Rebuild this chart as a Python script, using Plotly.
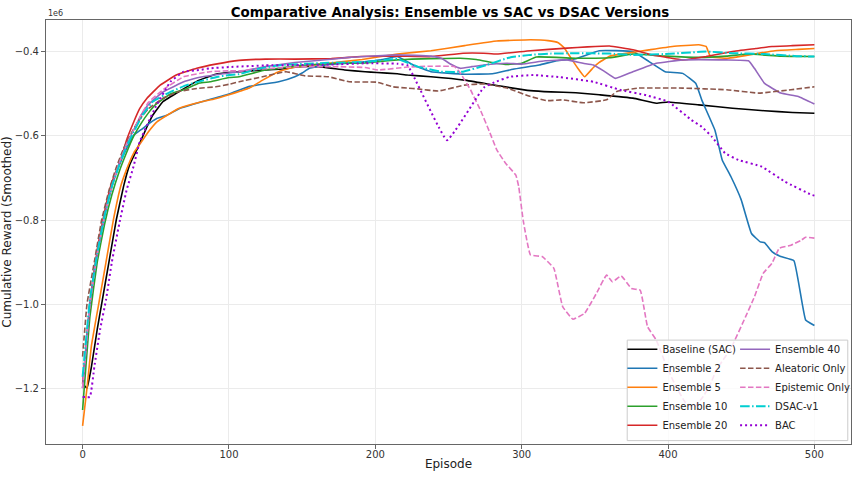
import plotly.graph_objects as go

# values are in units of 1e6 (cumulative reward, smoothed)
baseline_ep = [0,3,6,10,13,18,23,28,32,37,44,48,55,66,78,91,100,115,134,148,161,179,193,201,215,222,238,261,283,306,320,337,353,376,392,400,421,444,466,485,500]
baseline_val = [-1.19,-1.20,-1.15,-1.06,-1.0,-0.9,-0.8,-0.72,-0.67,-0.633,-0.578,-0.55,-0.518,-0.494,-0.47,-0.453,-0.449,-0.445,-0.441,-0.435,-0.435,-0.443,-0.447,-0.449,-0.452,-0.455,-0.459,-0.467,-0.48,-0.492,-0.495,-0.497,-0.502,-0.51,-0.522,-0.519,-0.526,-0.534,-0.54,-0.544,-0.546]

ens2_ep = [0,5,10,15,20,25,30,35,40,44,51,58,66,82,100,114,134,145,150,155,166,191,205,215,227,238,261,280,294,312,324,337,353,376,387,398,410,419,423,432,437,443,450,457,463,466,471,477,486,494,500]
ens2_val = [-1.2,-1.0,-0.88,-0.79,-0.72,-0.67,-0.63,-0.598,-0.585,-0.574,-0.558,-0.55,-0.535,-0.518,-0.50,-0.482,-0.471,-0.459,-0.45,-0.439,-0.431,-0.424,-0.418,-0.411,-0.433,-0.447,-0.453,-0.452,-0.441,-0.431,-0.421,-0.416,-0.397,-0.399,-0.423,-0.447,-0.451,-0.475,-0.514,-0.586,-0.657,-0.697,-0.752,-0.832,-0.852,-0.854,-0.875,-0.887,-0.897,-1.038,-1.051]

ens5_ep = [0,3,6,11,16,21,26,30,35,39,45,51,58,66,82,90,100,107,114,123,134,145,168,191,215,238,261,283,306,318,325,329,333,338,343,349,353,360,370,387,403,421,426,429,441,473,489,500]
ens5_val = [-1.29,-1.2,-1.1,-1.0,-0.9,-0.8,-0.72,-0.68,-0.64,-0.62,-0.59,-0.566,-0.55,-0.534,-0.518,-0.512,-0.502,-0.494,-0.486,-0.467,-0.447,-0.436,-0.427,-0.418,-0.405,-0.397,-0.385,-0.374,-0.371,-0.373,-0.378,-0.39,-0.411,-0.437,-0.459,-0.437,-0.425,-0.41,-0.404,-0.395,-0.387,-0.383,-0.387,-0.411,-0.415,-0.397,-0.394,-0.392]

ens10_ep = [0,5,10,15,20,25,30,35,40,45,50,60,69,80,87,100,107,125,150,175,193,202,215,225,238,258,269,280,290,300,310,337,360,376,398,421,440,455,477,500]
ens10_val = [-1.252,-1.03,-0.9,-0.81,-0.74,-0.685,-0.64,-0.6,-0.57,-0.545,-0.525,-0.5,-0.49,-0.474,-0.471,-0.461,-0.459,-0.443,-0.432,-0.427,-0.426,-0.423,-0.419,-0.417,-0.416,-0.415,-0.418,-0.425,-0.43,-0.427,-0.412,-0.415,-0.414,-0.405,-0.41,-0.413,-0.41,-0.405,-0.41,-0.411]

ens20_ep = [0,5,10,15,20,26,30,35,39,44,53,64,78,91,107,125,145,170,190,215,238,260,274,283,306,331,345,360,376,390,399,410,426,444,460,471,485,500]
ens20_val = [-1.19,-1.0,-0.87,-0.78,-0.71,-0.657,-0.61,-0.566,-0.535,-0.51,-0.479,-0.455,-0.439,-0.429,-0.42,-0.417,-0.417,-0.416,-0.411,-0.41,-0.411,-0.403,-0.403,-0.405,-0.397,-0.391,-0.388,-0.386,-0.395,-0.408,-0.413,-0.419,-0.411,-0.399,-0.392,-0.387,-0.385,-0.383]

ens40_ep = [0,5,10,15,20,25,30,35,40,45,55,70,82,100,107,125,145,168,182,215,238,245,252,258,266,274,290,300,316,331,342,349,356,364,376,392,410,440,455,459,466,477,489,500]
ens40_val = [-1.2,-1.0,-0.88,-0.79,-0.72,-0.665,-0.62,-0.585,-0.55,-0.525,-0.495,-0.47,-0.459,-0.45,-0.447,-0.435,-0.425,-0.418,-0.413,-0.407,-0.41,-0.415,-0.43,-0.439,-0.435,-0.431,-0.427,-0.429,-0.421,-0.419,-0.427,-0.431,-0.445,-0.463,-0.447,-0.427,-0.419,-0.419,-0.421,-0.439,-0.475,-0.498,-0.506,-0.524]

aleatoric_ep = [0,3,8,13,18,23,28,33,38,45,55,66,78,91,100,107,123,139,152,168,182,201,212,222,229,243,261,274,290,306,317,328,342,358,365,380,410,440,462,484,500]
aleatoric_val = [-1.125,-1.0,-0.9,-0.8,-0.73,-0.675,-0.63,-0.595,-0.565,-0.535,-0.51,-0.494,-0.487,-0.483,-0.477,-0.471,-0.459,-0.447,-0.457,-0.459,-0.471,-0.472,-0.483,-0.486,-0.488,-0.493,-0.479,-0.476,-0.486,-0.506,-0.516,-0.514,-0.521,-0.514,-0.494,-0.486,-0.486,-0.49,-0.498,-0.49,-0.483]

epistemic_ep = [0,5,10,15,20,25,30,35,40,45,55,69,87,100,107,125,148,170,193,202,222,238,254,258,265,272,278,283,289,296,298,301,306,314,322,328,335,343,351,358,362,368,375,381,386,392,400,406,412,418,424,429,433,443,453,459,465,471,476,484,491,494,500]
epistemic_val = [-1.2,-1.0,-0.88,-0.79,-0.72,-0.665,-0.62,-0.585,-0.55,-0.52,-0.49,-0.459,-0.447,-0.445,-0.445,-0.44,-0.435,-0.435,-0.437,-0.443,-0.436,-0.434,-0.435,-0.45,-0.49,-0.54,-0.59,-0.633,-0.665,-0.693,-0.721,-0.80,-0.883,-0.887,-0.915,-1.006,-1.036,-1.022,-0.975,-0.931,-0.947,-0.933,-0.963,-0.967,-1.054,-1.086,-1.157,-1.2,-1.235,-1.245,-1.22,-1.19,-1.157,-1.105,-1.03,-0.983,-0.927,-0.903,-0.867,-0.86,-0.848,-0.841,-0.843]

dsac_ep = [0,5,10,15,20,25,30,35,41,48,60,71,80,91,100,107,120,136,168,193,215,229,245,260,276,292,306,320,337,360,376,398,426,444,466,488,500]
dsac_val = [-1.173,-0.99,-0.88,-0.79,-0.72,-0.67,-0.625,-0.59,-0.55,-0.518,-0.495,-0.479,-0.47,-0.46,-0.455,-0.453,-0.44,-0.431,-0.426,-0.424,-0.417,-0.435,-0.447,-0.447,-0.431,-0.413,-0.407,-0.404,-0.403,-0.404,-0.407,-0.405,-0.399,-0.403,-0.405,-0.41,-0.411]

bac_ep = [0,5,8,12,16,20,25,30,35,39,44,50,60,69,80,87,100,125,148,170,193,215,222,249,274,283,292,308,326,349,367,385,400,416,423,430,439,448,464,480,498,500]
bac_val = [-1.221,-1.221,-1.15,-1.06,-0.99,-0.9,-0.81,-0.73,-0.67,-0.614,-0.574,-0.53,-0.471,-0.447,-0.443,-0.439,-0.436,-0.432,-0.431,-0.43,-0.427,-0.428,-0.432,-0.61,-0.485,-0.47,-0.459,-0.455,-0.46,-0.471,-0.49,-0.503,-0.518,-0.562,-0.578,-0.602,-0.641,-0.657,-0.673,-0.709,-0.740,-0.742]

SCALE = 1e6
y_ticks = [-1.2, -1.0, -0.8, -0.6, -0.4]
x_ticks = [0, 100, 200, 300, 400, 500]

series = [
    ("Baseline (SAC)", baseline_ep, baseline_val, "#000000", "solid", 1.6, "legend", 1),
    ("Ensemble 2", ens2_ep, ens2_val, "#1f77b4", "solid", 1.6, "legend", 2),
    ("Ensemble 5", ens5_ep, ens5_val, "#ff7f0e", "solid", 1.6, "legend", 3),
    ("Ensemble 10", ens10_ep, ens10_val, "#2ca02c", "solid", 1.6, "legend", 4),
    ("Ensemble 20", ens20_ep, ens20_val, "#d62728", "solid", 1.6, "legend", 5),
    ("Ensemble 40", ens40_ep, ens40_val, "#9467bd", "solid", 1.6, "legend2", 1),
    ("Aleatoric Only", aleatoric_ep, aleatoric_val, "#8c564b", "5.5px,2.4px", 1.6, "legend2", 2),
    ("Epistemic Only", epistemic_ep, epistemic_val, "#e377c2", "5.5px,2.4px", 1.6, "legend2", 3),
    ("DSAC-v1", dsac_ep, dsac_val, "#00ced1", "9.6px,2.4px,1.5px,2.4px", 2.0, "legend2", 4),
    ("BAC", bac_ep, bac_val, "#9400d3", "2px,3px", 2.0, "legend2", 5),
]

FONT = "DejaVu Sans"
fig = go.Figure()
for name, ep, val, color, dash, width, leg, rank in series:
    fig.add_trace(go.Scatter(
        x=ep, y=[v * SCALE for v in val], mode="lines", name=name,
        line=dict(color=color, dash=dash, width=width, shape="spline", smoothing=0.3),
        legend=leg, legendrank=rank,
    ))

axis_common = dict(
    showgrid=True, gridcolor="#ebebeb", gridwidth=0.8,
    showline=True, linecolor="#666666", linewidth=1, mirror=True,
    ticks="outside", ticklen=4, tickcolor="#666666",
    tickfont=dict(family=FONT, size=10, color="#333333"),
    zeroline=False, automargin=False,
)

fig.update_layout(
    width=863, height=478,
    margin=dict(l=46, r=8, t=20, b=34),
    paper_bgcolor="white", plot_bgcolor="white",
    font=dict(family=FONT, color="#222222"),
    title=dict(text="<b>Comparative Analysis: Ensemble vs SAC vs DSAC Versions</b>",
               x=0.5215, xanchor="center", y=0.975, yanchor="middle",
               font=dict(family=FONT, size=13.4, color="#000000")),
    xaxis=dict(range=[-25, 525], tickvals=x_ticks, ticktext=[str(t) for t in x_ticks],
               ticklabelstandoff=-3,
               title=dict(text="Episode", font=dict(family=FONT, size=12), standoff=0),
               **axis_common),
    yaxis=dict(range=[-1.333 * SCALE, -0.324 * SCALE],
               tickvals=[t * SCALE for t in y_ticks],
               ticktext=[("\u2212%.1f" % abs(t)) for t in y_ticks],
               title=dict(text="Cumulative Reward (Smoothed)", font=dict(family=FONT, size=12), standoff=0),
               **axis_common),
    legend=dict(x=0.716, xanchor="left", y=0.01, yanchor="bottom",
                bgcolor="rgba(0,0,0,0)", borderwidth=0,
                font=dict(family=FONT, size=10, color="#222222"), tracegroupgap=0),
    legend2=dict(x=0.856, xanchor="left", y=0.01, yanchor="bottom",
                 bgcolor="rgba(0,0,0,0)", borderwidth=0,
                 font=dict(family=FONT, size=10, color="#222222"), tracegroupgap=0),
    shapes=[dict(type="rect", xref="paper", yref="paper", x0=0.722, x1=0.996, y0=0.008, y1=0.245,
                 fillcolor="rgba(255,255,255,0.8)", line=dict(color="#cccccc", width=1), layer="above")],
    annotations=[dict(text="1e6", xref="paper", yref="paper", x=0, y=1, xanchor="left", yanchor="bottom",
                      showarrow=False, font=dict(family=FONT, size=8, color="#333333"))],
    showlegend=True,
)

fig.write_html("out.html")
